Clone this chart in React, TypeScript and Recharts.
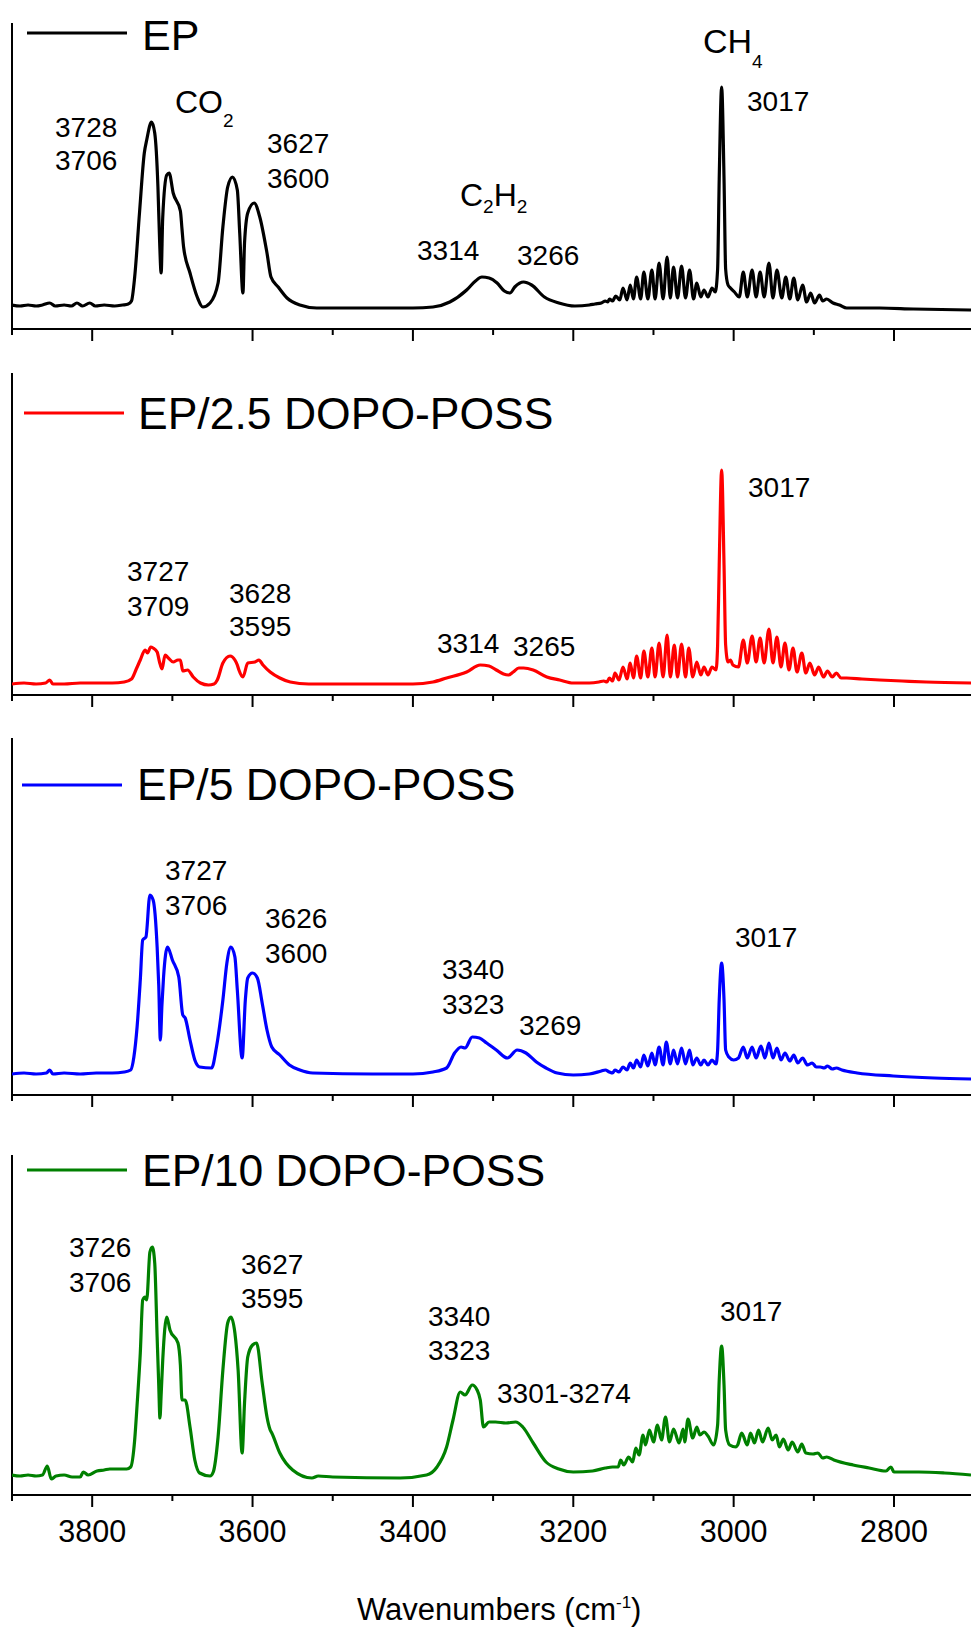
import React from 'react';
import { LineChart, Line, XAxis, YAxis, ReferenceLine } from 'recharts';

const FONT = "'Liberation Sans', Arial, Helvetica, sans-serif";

// x axis (wavenumber, cm-1)
const xTicks = [3900, 3800, 3700, 3600, 3500, 3400, 3300, 3200, 3100, 3000, 2900, 2800];
const xDomain: [number, number] = [2704, 3900];

// Spectra: [wavenumber, absorbance (a.u.)]
const epSpectrum: [number, number][] = [
  [3900,24],[3890,23],[3880,24],[3870,23],[3862,24],[3853,26],[3846,23],[3835,24],[3826,23],[3819,26],[3812,23],[3803,26],[3796,23],[3785,24],[3772,23],[3762,24],[3755,25],[3751,28],[3747,52],[3741,116],[3735,176],[3732,189],[3726,207],[3722,196],[3718,142],[3716,90],[3714,56],[3712,112],[3707,154],[3704,156],[3699,136],[3690,118],[3688,100],[3686,82],[3678,56],[3669,32],[3662,22],[3653,26],[3643,46],[3637,102],[3631,142],[3625,152],[3619,139],[3616,96],[3612,36],[3610,86],[3606,116],[3598,126],[3591,112],[3582,76],[3577,52],[3568,42],[3557,31],[3541,24],[3520,21],[3450,21],[3400,21],[3375,22],[3354,27],[3333,39],[3322,48],[3314,52],[3305,51],[3295,46],[3286,38],[3279,36],[3273,42],[3262,47],[3252,44],[3236,32],[3218,26],[3198,23],[3180,24],[3173,25],[3165,26],[3160,28],[3157,27],
  [3155,30],[3151,28],[3147,33],[3142,29],[3138,41],[3133,29],[3129,44],[3125,30],[3121,52],[3116,30],[3112,57],[3107,30],[3102,59],[3098,30],[3093,66],[3088,30],[3083,72],[3079,31],[3075,62],[3070,31],[3065,63],[3060,31],[3055,59],[3050,30],[3046,46],[3041,32],[3037,39],[3032,32],[3027,41],[3023,37],[3020,60],[3018,150],[3015,242],[3012,150],[3010,60],[3007,44],[3004,41],[2999,37],[2993,32],[2988,57],[2983,32],[2977,59],[2972,32],[2967,57],[2962,32],[2956,66],[2951,31],[2946,59],[2940,31],[2935,52],[2930,30],[2925,51],[2920,29],[2914,44],[2909,27],[2904,36],[2899,26],[2893,34],[2889,28],[2884,30],[2876,26],[2868,24],[2859,21],[2818,21],[2776,20],[2704,19],
];

const dp25Spectrum: [number, number][] = [
  [3900,11],[3885,12],[3870,11],[3858,12],[3853,15],[3849,11],[3835,11],[3815,12],[3795,12],[3775,12],[3760,13],[3751,16],[3745,26],[3740,35],[3734,45],[3731,42],[3727,48],[3724,47],[3719,43],[3716,33],[3713,26],[3709,40],[3705,37],[3699,33],[3693,35],[3690,35],[3687,24],[3681,25],[3674,18],[3665,12],[3655,10],[3648,11],[3644,15],[3637,32],[3628,39],[3622,35],[3619,30],[3617,25],[3612,18],[3606,32],[3597,33],[3592,35],[3587,30],[3578,23],[3566,17],[3553,13],[3530,11],[3450,11],[3400,11],[3375,13],[3358,17],[3333,23],[3316,30],[3305,29],[3296,25],[3287,21],[3281,20],[3275,23],[3268,27],[3262,27],[3250,25],[3233,18],[3217,15],[3200,12],[3180,12],[3168,13],[3162,14],[3158,13],
  [3155,17],[3151,14],[3148,22],[3143,15],[3138,28],[3133,16],[3129,32],[3125,17],[3121,39],[3116,17],[3112,44],[3107,18],[3102,47],[3098,18],[3093,52],[3088,18],[3083,60],[3079,18],[3074,50],[3070,18],[3065,51],[3060,18],[3056,47],[3051,18],[3046,33],[3041,20],[3037,28],[3032,20],[3027,28],[3022,25],[3020,50],[3018,130],[3015,225],[3012,130],[3010,50],[3007,33],[3004,35],[3001,30],[2994,28],[2988,55],[2983,32],[2977,59],[2972,33],[2967,57],[2962,32],[2956,66],[2951,32],[2946,58],[2941,28],[2936,52],[2931,25],[2926,47],[2921,23],[2915,42],[2910,22],[2905,32],[2899,20],[2894,28],[2888,18],[2883,24],[2877,18],[2872,22],[2866,17],[2859,17],[2840,16],[2818,15],[2790,14],[2760,13],[2704,12],
];

const dp5Spectrum: [number, number][] = [
  [3900,21],[3885,22],[3870,21],[3857,22],[3853,25],[3849,21],[3835,22],[3815,21],[3795,22],[3775,22],[3760,23],[3752,25],[3748,38],[3744,68],[3740,115],[3737,155],[3733,158],[3728,200],[3724,195],[3719,148],[3717,110],[3715,55],[3713,90],[3711,118],[3706,148],[3700,135],[3692,118],[3687,80],[3684,77],[3678,55],[3672,35],[3666,28],[3651,27],[3645,48],[3637,95],[3632,132],[3627,148],[3622,138],[3619,105],[3613,37],[3609,95],[3606,117],[3600,122],[3594,117],[3588,92],[3582,65],[3576,48],[3566,40],[3554,30],[3541,25],[3525,22],[3450,21],[3400,21],[3375,23],[3358,27],[3348,42],[3340,48],[3335,47],[3326,58],[3317,57],[3308,52],[3296,45],[3282,37],[3270,45],[3259,42],[3246,33],[3234,27],[3220,22],[3200,20],[3180,21],[3165,24],[3160,25],
  [3155,23],[3151,22],[3148,25],[3143,23],[3138,28],[3133,25],[3129,32],[3125,27],[3121,35],[3116,28],[3112,40],[3107,29],[3102,42],[3098,30],[3093,48],[3088,30],[3084,53],[3079,31],[3075,45],[3070,31],[3065,47],[3060,31],[3055,45],[3051,30],[3046,37],[3041,30],[3037,35],[3032,30],[3027,35],[3022,31],[3020,45],[3018,95],[3015,132],[3012,95],[3010,45],[3006,38],[3000,35],[2994,37],[2988,48],[2983,37],[2977,48],[2972,37],[2966,49],[2961,37],[2956,52],[2951,37],[2946,47],[2941,35],[2936,42],[2930,34],[2925,40],[2920,32],[2914,37],[2908,30],[2902,32],[2897,28],[2892,28],[2887,27],[2883,29],[2877,26],[2872,27],[2865,25],[2846,22],[2801,19],[2750,17],[2704,16],
];

const dp10Spectrum: [number, number][] = [
  [3900,20],[3890,19],[3880,20],[3870,19],[3862,20],[3856,29],[3851,16],[3845,19],[3835,20],[3825,18],[3815,18],[3811,23],[3805,20],[3794,24],[3785,25],[3778,26],[3765,26],[3757,26],[3752,28],[3747,55],[3744,90],[3740,142],[3737,195],[3734,198],[3732,195],[3728,243],[3725,248],[3722,232],[3719,158],[3717,110],[3715.5,77],[3714,100],[3712,135],[3707,178],[3703,165],[3693,152],[3690,130],[3688,95],[3684,95],[3678,68],[3672,35],[3666,22],[3653,19],[3649,23],[3643,58],[3637,125],[3631,172],[3627,178],[3622,162],[3618,125],[3613,42],[3610,92],[3606,138],[3600,150],[3595,152],[3588,112],[3582,78],[3578,65],[3576,62],[3566,42],[3550,25],[3526,17],[3518,19],[3500,18],[3416,17],[3383,20],[3370,28],[3358,48],[3350,75],[3341,103],[3335,100],[3326,110],[3320,105],[3316,95],[3312,68],[3305,73],[3297,73],[3284,72],[3272,73],[3263,68],[3250,52],[3234,33],[3218,26],[3200,23],[3176,24],[3160,27],[3151,28],
  [3144,28],[3141,35],[3137,30],[3131,38],[3126,33],[3122,47],[3118,40],[3113,60],[3110,50],[3105,65],[3100,53],[3095,70],[3090,55],[3085,78],[3080,53],[3075,66],[3068,52],[3063,66],[3061,53],[3057,76],[3051,57],[3046,68],[3042,60],[3037,63],[3032,59],[3025,50],[3020,70],[3018,115],[3015,149],[3012,110],[3010,65],[3005,50],[2997,48],[2995,50],[2990,62],[2983,50],[2979,62],[2974,52],[2969,65],[2964,53],[2957,67],[2952,55],[2947,60],[2943,48],[2938,56],[2932,45],[2927,53],[2920,43],[2915,51],[2910,42],[2901,41],[2895,42],[2889,37],[2884,38],[2875,35],[2851,30],[2831,27],[2810,24],[2804,28],[2800,23],[2769,23],[2737,22],[2704,20],
];

const seriesNames = ['EP', 'EP/2.5 DOPO-POSS', 'EP/5 DOPO-POSS', 'EP/10 DOPO-POSS'];
const seriesColors = ['#000000', '#ff0000', '#0000ff', '#008000'];
const seriesData = [epSpectrum, dp25Spectrum, dp5Spectrum, dp10Spectrum];

// layout (pixels)
const panelLayout = [
  { top: 23, plotH: 306, legY: 33, legX: 27, textX: 142, textBase: 50, legFont: 43 },
  { top: 373, plotH: 322, legY: 413, legX: 24, textX: 138, textBase: 429, legFont: 44.5 },
  { top: 738, plotH: 357, legY: 785, legX: 22, textX: 137, textBase: 800, legFont: 44.5 },
  { top: 1155, plotH: 340, legY: 1170, legX: 27, textX: 142, textBase: 1186, legFont: 44.5 },
];

type Note = { t: string; x: number; y: number };
const peakNotes: Note[] = [
  { t: '3728', x: 55, y: 137 }, { t: '3706', x: 55, y: 170 },
  { t: '3627', x: 267, y: 153 }, { t: '3600', x: 267, y: 188 },
  { t: '3314', x: 417, y: 260 }, { t: '3266', x: 517, y: 265 },
  { t: '3017', x: 747, y: 111 },
  { t: '3727', x: 127, y: 581 }, { t: '3709', x: 127, y: 616 },
  { t: '3628', x: 229, y: 603 }, { t: '3595', x: 229, y: 636 },
  { t: '3314', x: 437, y: 653 }, { t: '3265', x: 513, y: 656 },
  { t: '3017', x: 748, y: 497 },
  { t: '3727', x: 165, y: 880 }, { t: '3706', x: 165, y: 915 },
  { t: '3626', x: 265, y: 928 }, { t: '3600', x: 265, y: 963 },
  { t: '3340', x: 442, y: 979 }, { t: '3323', x: 442, y: 1014 },
  { t: '3269', x: 519, y: 1035 }, { t: '3017', x: 735, y: 947 },
  { t: '3726', x: 69, y: 1257 }, { t: '3706', x: 69, y: 1292 },
  { t: '3627', x: 241, y: 1274 }, { t: '3595', x: 241, y: 1308 },
  { t: '3340', x: 428, y: 1326 }, { t: '3323', x: 428, y: 1360 },
  { t: '3301-3274', x: 497, y: 1403 }, { t: '3017', x: 720, y: 1321 },
];

function AxisTick(props: any) {
  const { x, y, payload, showLabel } = props;
  const v = Number(payload && payload.value);
  const major = v % 200 === 0;
  return (
    <g>
      <line x1={x} x2={x} y1={y} y2={y + (major ? 12 : 6)} stroke="#000" strokeWidth={2} />
      {showLabel && major ? (
        <text x={x} y={y + 47} textAnchor="middle" fontSize={30.5} fontFamily={FONT} fill="#000">
          {v}
        </text>
      ) : null}
    </g>
  );
}

function Panel({ idx }: { idx: number }) {
  const lay = panelLayout[idx];
  const isLast = idx === panelLayout.length - 1;
  const axisH = isLast ? 120 : 20;
  const rows = seriesData[idx].map(([wn, a]) => ({ wn, a }));
  return (
    <div style={{ position: 'absolute', left: 0, top: lay.top }}>
      <LineChart width={971} height={lay.plotH + axisH} data={rows} margin={{ top: 0, right: 0, bottom: 0, left: 12 }}>
        <XAxis
          type="number"
          dataKey="wn"
          domain={xDomain}
          reversed
          allowDataOverflow
          ticks={xTicks}
          interval={0}
          tickSize={0}
          tickMargin={0}
          tickLine={false}
          axisLine={{ stroke: '#000', strokeWidth: 2 }}
          height={axisH}
          tick={(p: any) => <AxisTick {...p} showLabel={isLast} />}
        />
        <YAxis hide type="number" domain={[0, lay.plotH]} allowDataOverflow />
        <ReferenceLine x={3900} stroke="#000" strokeWidth={2} />
        <Line
          type="monotone"
          dataKey="a"
          stroke={seriesColors[idx]}
          strokeWidth={3.2}
          strokeLinejoin="round"
          dot={false}
          activeDot={false}
          isAnimationActive={false}
        />
      </LineChart>
    </div>
  );
}

export default function App() {
  return (
    <div style={{ position: 'absolute', left: 0, top: 0, width: 971, height: 1627, background: '#fff', overflow: 'hidden' }}>
      {panelLayout.map((_, i) => (
        <Panel key={i} idx={i} />
      ))}
      <svg width={971} height={1627} style={{ position: 'absolute', left: 0, top: 0, pointerEvents: 'none' }} fontFamily={FONT}>
        {panelLayout.map((lay, i) => (
          <g key={i}>
            <line x1={lay.legX} x2={lay.legX + 100} y1={lay.legY} y2={lay.legY} stroke={seriesColors[i]} strokeWidth={3.2} />
            <text x={lay.textX} y={lay.textBase} fontSize={lay.legFont} fill="#000">
              {seriesNames[i]}
            </text>
          </g>
        ))}
        {peakNotes.map((n, i) => (
          <text key={i} x={n.x} y={n.y} fontSize={28} fill="#000">
            {n.t}
          </text>
        ))}
        <text x={175} y={113} fontSize={32} fill="#000">
          CO<tspan fontSize={19} dy={14}>2</tspan>
        </text>
        <text x={460} y={206} fontSize={32} fill="#000">
          C<tspan fontSize={19} dy={7}>2</tspan>
          <tspan fontSize={32} dy={-7}>H</tspan>
          <tspan fontSize={19} dy={7}>2</tspan>
        </text>
        <text x={703} y={53} fontSize={34} fill="#000">
          CH<tspan fontSize={19} dy={15}>4</tspan>
        </text>
        <text x={357} y={1620} fontSize={31} fill="#000">
          Wavenumbers (cm<tspan fontSize={17} dy={-12}>-1</tspan>
          <tspan fontSize={31} dy={12}>)</tspan>
        </text>
      </svg>
    </div>
  );
}
